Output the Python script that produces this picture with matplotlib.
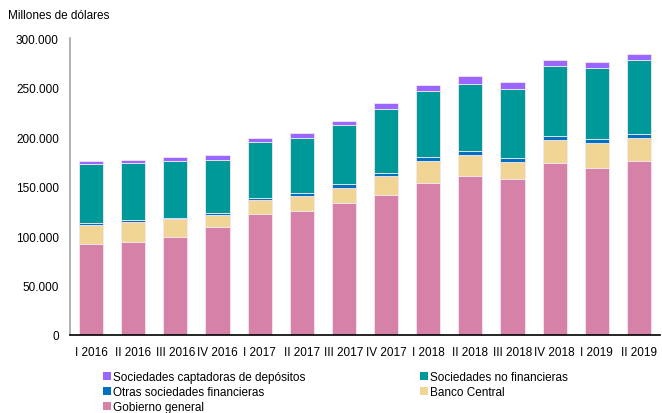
import numpy as np
import matplotlib
matplotlib.use("Agg")
import matplotlib.pyplot as plt
from matplotlib.patches import Patch
from matplotlib.ticker import FuncFormatter

plt.rcParams['font.family'] = ['Liberation Sans', 'DejaVu Sans']

periodos = ["I 2016", "II 2016", "III 2016", "IV 2016", "I 2017", "II 2017", "III 2017",
            "IV 2017", "I 2018", "II 2018", "III 2018", "IV 2018", "I 2019", "II 2019"]

gobierno = [92000, 94000, 98700, 108800, 122200, 125600, 133600,
            141700, 153200, 160900, 157600, 173700, 169000, 176100]
banco_central = [19000, 20400, 18500, 12700, 14200, 14800, 14900,
                 19200, 22600, 20600, 17100, 23600, 24900, 23200]
otras_fin = [1800, 1800, 700, 1400, 2300, 2700, 3700,
             2400, 3700, 4000, 4100, 3400, 4100, 3700]
no_financieras = [59600, 57500, 58200, 54200, 56600, 56200, 60200,
                  64700, 66700, 68400, 69700, 71300, 71700, 75100]
captadoras = [3400, 3400, 3400, 4700, 3400, 4700, 4100,
              6000, 6700, 7700, 6700, 6100, 6100, 5700]

series = [
    ("Gobierno general", gobierno, "#D681A8"),
    ("Banco Central", banco_central, "#F0D595"),
    ("Otras sociedades financieras", otras_fin, "#0070C0"),
    ("Sociedades no financieras", no_financieras, "#009999"),
    ("Sociedades captadoras de depósitos", captadoras, "#9966FF"),
]

fig = plt.figure(figsize=(6.62, 4.14), dpi=100)
ax = fig.add_axes([70 / 662, 1 - 336 / 414, 590 / 662, 297 / 414])

x = np.arange(len(periodos))
bottom = np.zeros(len(periodos))
for name, vals, col in series:
    ax.bar(x, vals, 0.57, bottom=bottom, color=col, edgecolor="#F4E6F0", linewidth=0.6)
    bottom += np.array(vals)

ax.set_xlim(-0.5, len(periodos) - 0.5)
ax.set_ylim(0, 300000)
ax.set_yticks(np.arange(0, 300001, 50000))
ax.yaxis.set_major_formatter(FuncFormatter(lambda v, p: f"{int(v):,}".replace(",", ".")))
ax.set_xticks(x)
ax.set_xticklabels(periodos)
ax.tick_params(axis="both", labelsize=8.5, length=0, pad=8)
ax.tick_params(axis="y", pad=8)
for s in ["top", "right"]:
    ax.spines[s].set_visible(False)
ax.spines["left"].set_color("#A6A6A6")
ax.spines["left"].set_linewidth(1.2)
ax.spines["bottom"].set_color("black")
ax.spines["bottom"].set_linewidth(1.2)

fig.text(8 / 662, 1 - 16 / 414, "Millones de dólares", fontsize=8.5, va="center")

colores = {n: c for n, v, c in series}
orden = ["Sociedades captadoras de depósitos", "Otras sociedades financieras", "Gobierno general",
         "Sociedades no financieras", "Banco Central"]
handles = [Patch(facecolor=colores[n], edgecolor="none", label=n) for n in orden]
fig.legend(handles=handles, ncol=2, loc="upper left", bbox_to_anchor=(103 / 662, 1 - 372 / 414),
           frameon=False, fontsize=8.5, handlelength=0.7, handleheight=0.7, handletextpad=0.15,
           columnspacing=9.7, labelspacing=0.25, borderaxespad=0, borderpad=0)

fig.savefig("out.png", dpi=100)
